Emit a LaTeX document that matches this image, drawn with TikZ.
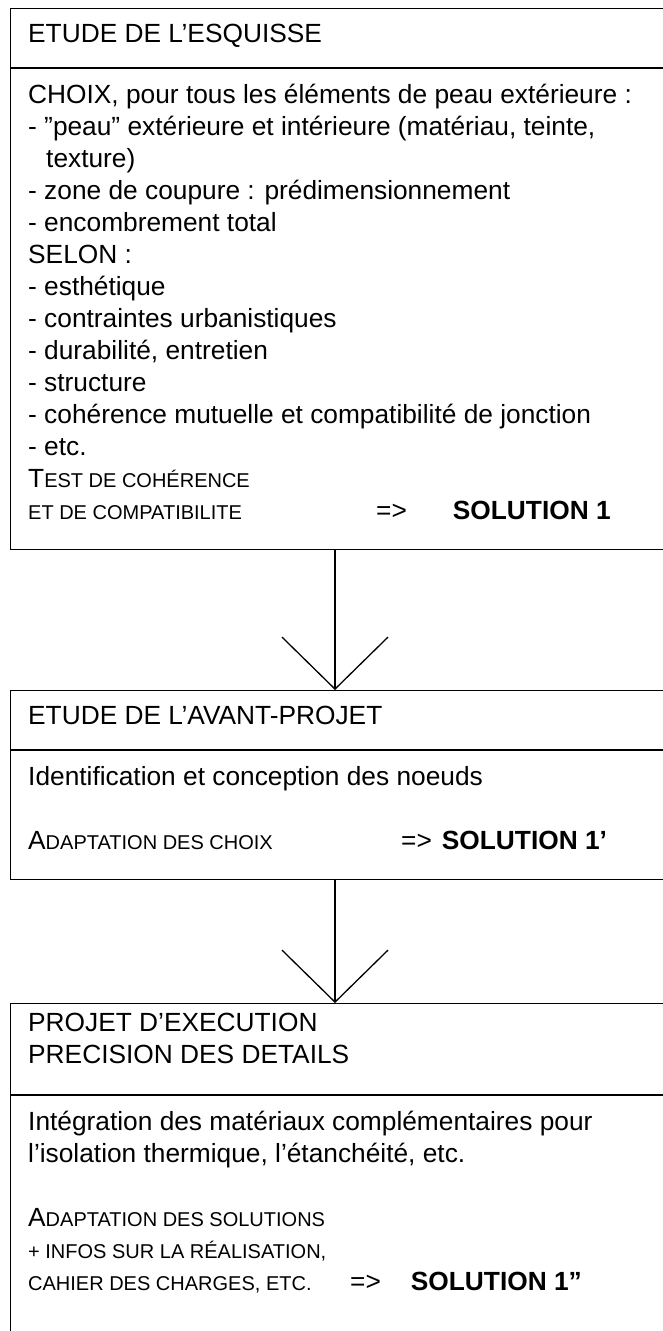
\documentclass[tikz,border=0pt]{standalone}
\usepackage{fontspec}
\setmainfont{Liberation Sans}
\usetikzlibrary{arrows.meta,positioning}

% petites capitales faites a la main
\newcommand\petitcap[1]{{\fontsize{20}{32}\selectfont #1}}
% derniere ligne : texte, fleche puis solution
\newcommand\resultat[4]{\makebox[#1][l]{#2}=>\hspace{#3}\textbf{#4}}

\begin{document}
\begin{tikzpicture}[x=1pt,y=-1pt,font=\fontsize{26.3}{32}\selectfont,
 cadre/.style={draw,line width=1pt,anchor=north west,minimum width=690pt,inner sep=0pt},
 texte/.style={anchor=north west,align=left,inner sep=0pt,execute at begin node={\rule{0pt}{24pt}}},
 separation/.style={line width=2pt},
 fleche/.style={-{Straight Barb[length=52pt,width=106pt]},line width=1.3pt}]
\useasboundingbox (0,0) rectangle (662,1331);
\coordinate (axe) at (335,0);

% esquisse
\node[cadre,minimum height=59pt] (esq-tete) at (10,8) {};
\node[cadre,minimum height=481pt] (esq-corps) at (esq-tete.south west) {};
\draw[separation] (esq-tete.south west) -- (esq-tete.south east);
\node[texte] (esq-titre) at ([shift={(18,10)}]esq-tete.north west) {ETUDE DE L'ESQUISSE};
\node[texte] (esq-texte) at ([shift={(18,16)}]esq-corps.north west) {CHOIX, pour tous les éléments de peau extérieure :\\
- ”peau” extérieure et intérieure (matériau, teinte,\\
\hspace*{18pt}texture)\\
- zone de coupure : prédimensionnement\\
- encombrement total\\
SELON :\\
- esthétique\\
- contraintes urbanistiques\\
- durabilité, entretien\\
- structure\\
- cohérence mutuelle et compatibilité de jonction\\
- etc.\\
T\petitcap{EST DE COHÉRENCE}\\
\resultat{348pt}{\petitcap{ET DE COMPATIBILITE}}{46pt}{SOLUTION 1}};

% avant-projet
\node[cadre,minimum height=59pt] (avp-tete) at (10,690) {};
\node[cadre,minimum height=129pt] (avp-corps) at (avp-tete.south west) {};
\draw[separation] (avp-tete.south west) -- (avp-tete.south east);
\node[texte] (avp-titre) at ([shift={(18,10)}]avp-tete.north west) {ETUDE DE L'AVANT-PROJET};
\node[texte] (avp-texte) at ([shift={(18,16)}]avp-corps.north west) {Identification et conception des noeuds\\[32pt]
\resultat{373pt}{A\petitcap{DAPTATION DES CHOIX}}{10pt}{SOLUTION 1’}};

% execution
\node[cadre,minimum height=91pt] (exe-tete) at (10,1003) {};
\node[cadre,minimum height=260pt] (exe-corps) at (exe-tete.south west) {};
\draw[separation] (exe-tete.south west) -- (exe-tete.south east);
\node[texte] (exe-titre) at ([shift={(18,10)}]exe-tete.north west) {PROJET D'EXECUTION\\PRECISION DES DETAILS};
\node[texte] (exe-texte) at ([shift={(18,16)}]exe-corps.north west) {Intégration des matériaux complémentaires pour\\
l'isolation thermique, l'étanchéité, etc.\\[32pt]
A\petitcap{DAPTATION DES SOLUTIONS}\\
\petitcap{+ INFOS SUR LA RÉALISATION,}\\
\resultat{322pt}{\petitcap{CAHIER DES CHARGES, ETC.}}{30pt}{SOLUTION 1”}};

\draw[fleche] (axe |- esq-corps.south) -- (axe |- avp-tete.north);
\draw[fleche] (axe |- avp-corps.south) -- (axe |- exe-tete.north);
\end{tikzpicture}
\end{document}
